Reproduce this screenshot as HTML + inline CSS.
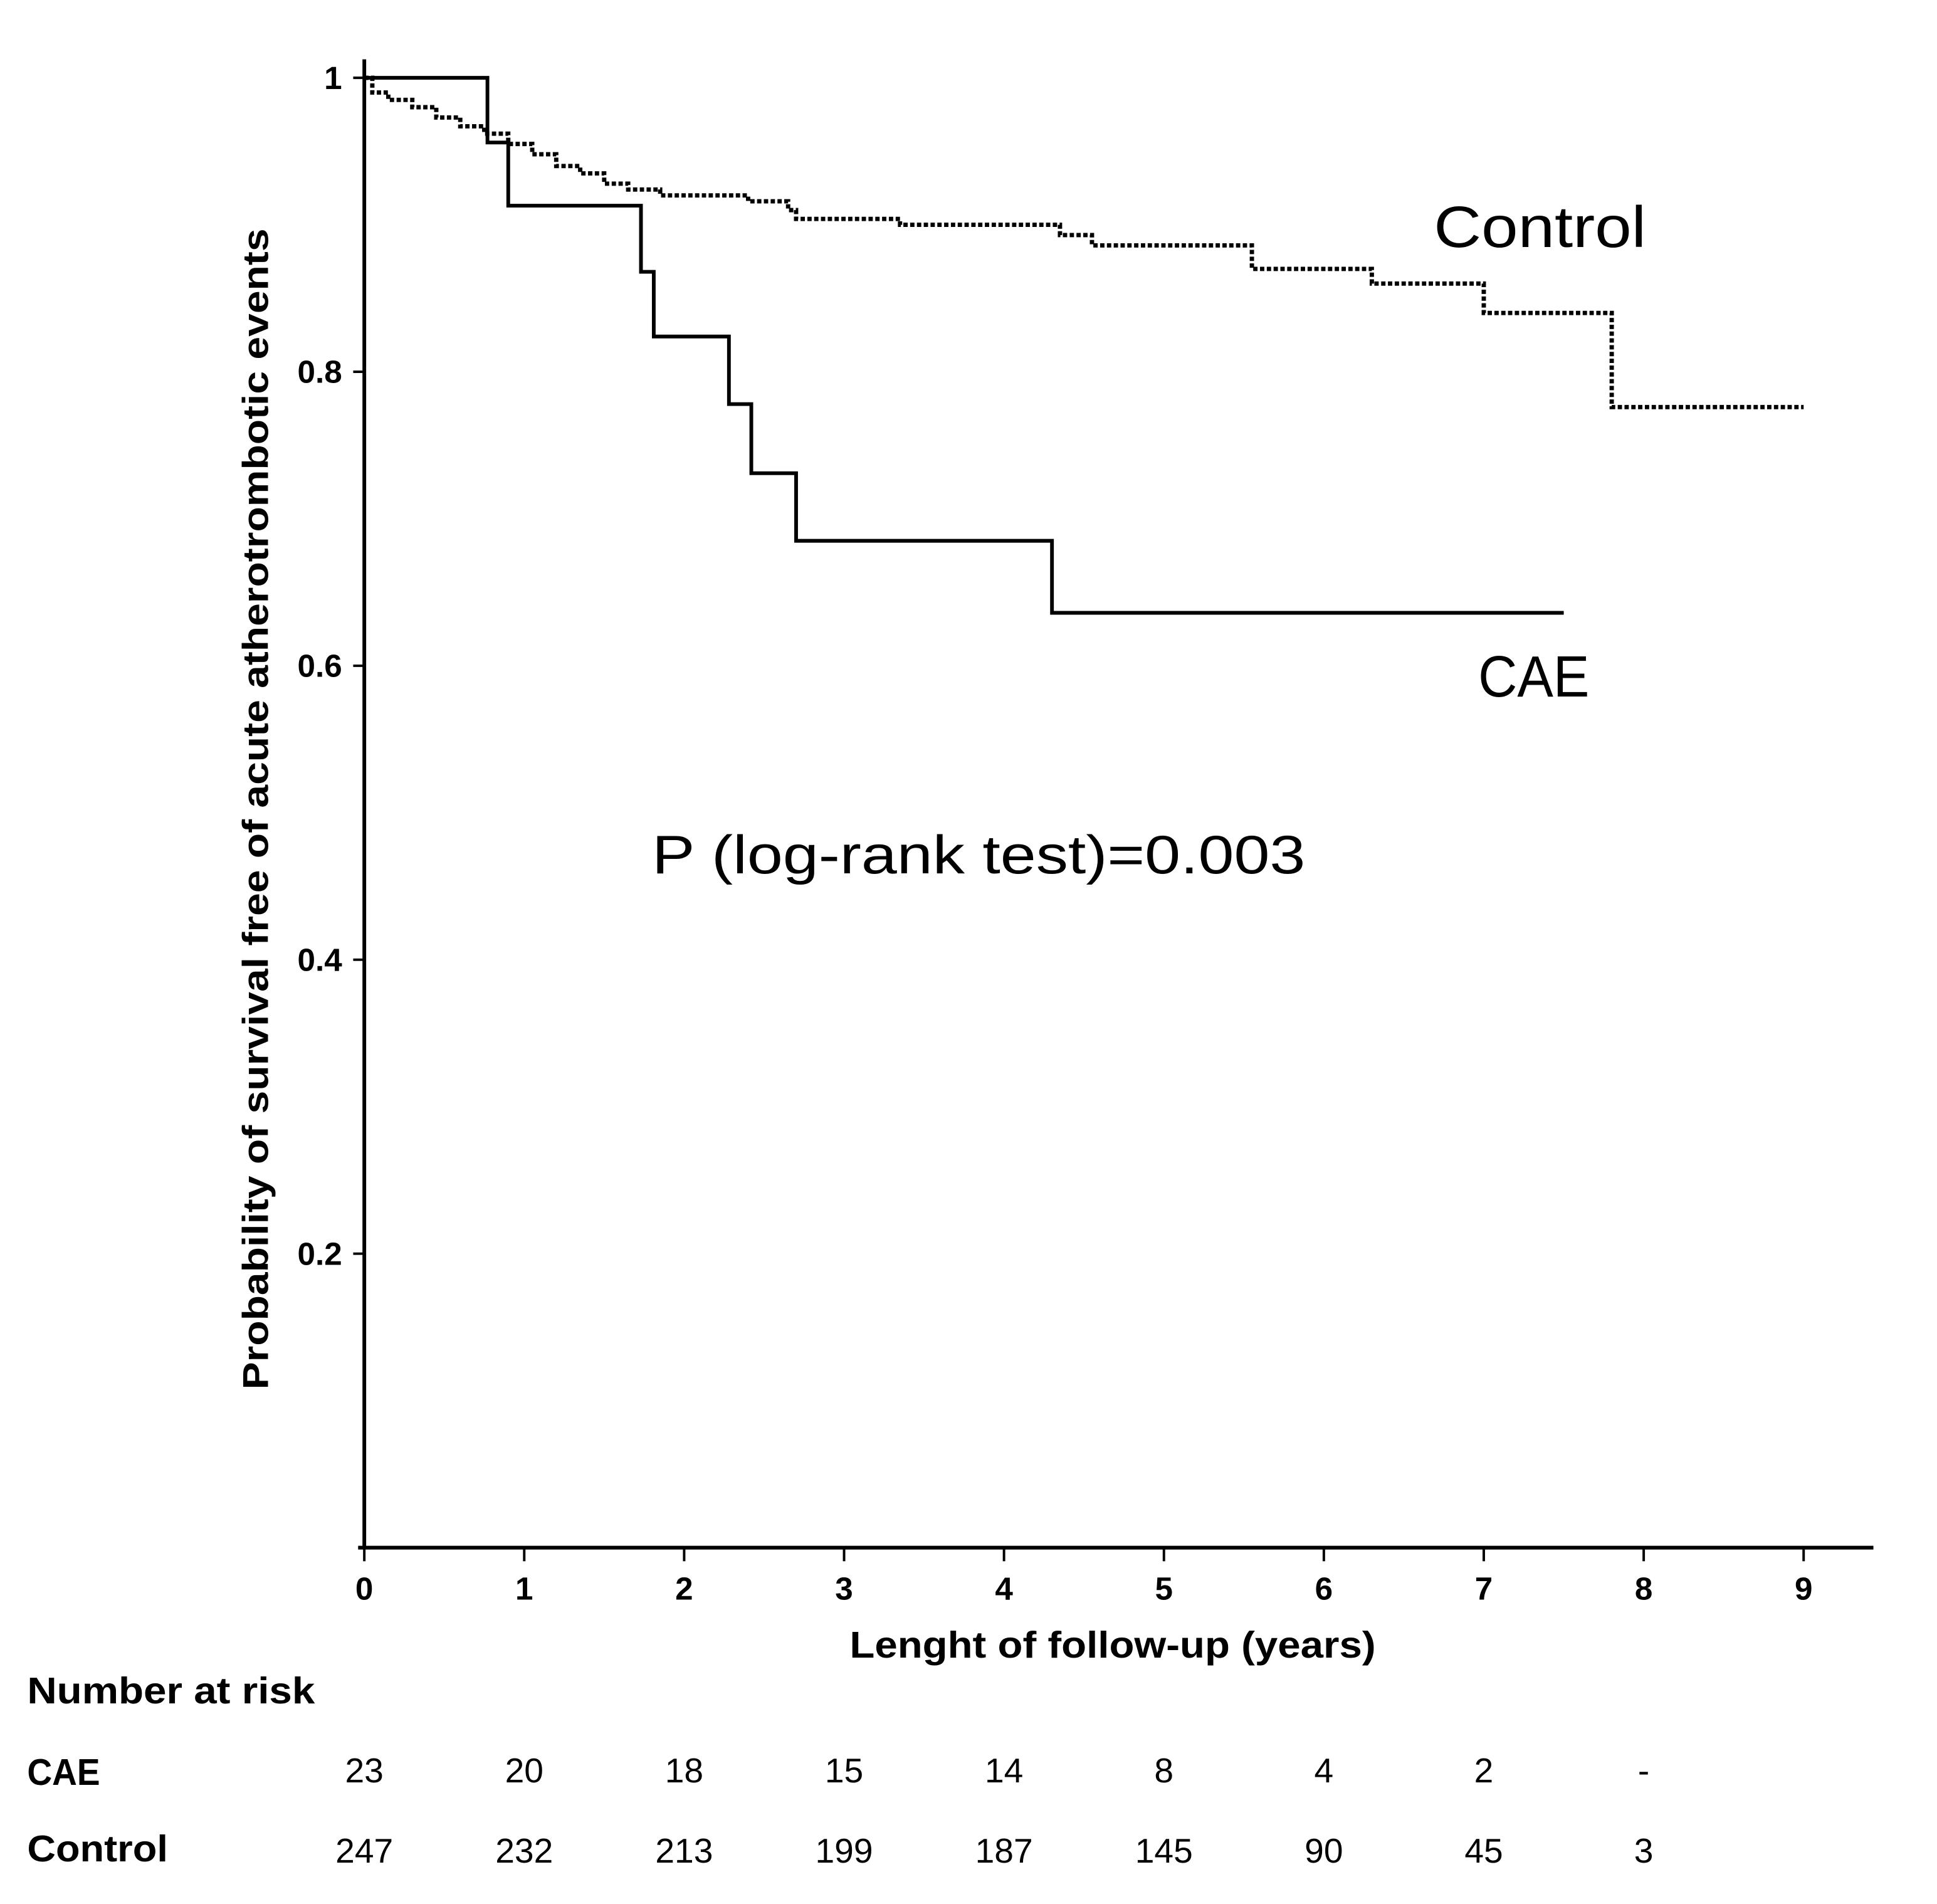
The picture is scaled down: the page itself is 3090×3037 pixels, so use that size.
<!DOCTYPE html>
<html><head><meta charset="utf-8"><style>
html,body{margin:0;padding:0;background:#fff;}
svg{display:block;}
text{font-family:"Liberation Sans",sans-serif;fill:#000;}
</style></head><body>
<svg width="3090" height="3037" viewBox="0 0 3137 3083" preserveAspectRatio="none" xmlns="http://www.w3.org/2000/svg">
<g id="axes"></g>
<g id="curves"></g>
<g id="labels">
<text transform="translate(434,1310) rotate(-90)" text-anchor="middle" font-size="58" font-weight="bold" textLength="1880" lengthAdjust="spacingAndGlyphs">Probability of survival free of acute atherotrombotic events</text>
<text x="1802" y="2684" text-anchor="middle" font-size="60" font-weight="bold" textLength="852" lengthAdjust="spacingAndGlyphs">Lenght of follow-up (years)</text>
<text x="2322" y="400" font-size="94" textLength="344" lengthAdjust="spacingAndGlyphs">Control</text>
<text x="2394" y="1128" font-size="94" textLength="180" lengthAdjust="spacingAndGlyphs">CAE</text>
<text x="1056" y="1414" font-size="88" textLength="1058" lengthAdjust="spacingAndGlyphs">P (log-rank test)=0.003</text>
<text x="44" y="2758" font-size="60" font-weight="bold" textLength="466" lengthAdjust="spacingAndGlyphs">Number at risk</text>
<text x="44" y="2890" font-size="60" font-weight="bold" textLength="118" lengthAdjust="spacingAndGlyphs">CAE</text>
<text x="44" y="3014" font-size="60" font-weight="bold" textLength="228" lengthAdjust="spacingAndGlyphs">Control</text>
</g>
<g id="risk"></g>
</svg>
<script>
const xTicks = [0,1,2,3,4,5,6,7,8,9];
const yTicks = [1,0.8,0.6,0.4,0.2];
const yTickLabels = ["1","0.8","0.6","0.4","0.2"];
const caeTimes = [0,0.77,0.9,1.73,1.81,2.28,2.42,2.7,4.3,7.5];
const caeSurv  = [1,0.956,0.913,0.868,0.824,0.778,0.731,0.685,0.636,0.636];
const ctrlTimes = [0,0.05,0.15,0.3,0.45,0.6,0.75,0.9,1.05,1.2,1.35,1.5,1.65,1.85,2.4,2.65,2.7,3.35,4.35,4.55,5.55,6.3,7.0,7.8,9.0];
const ctrlSurv  = [1,0.99,0.985,0.98,0.973,0.967,0.962,0.955,0.948,0.94,0.935,0.928,0.924,0.92,0.916,0.91,0.904,0.9,0.893,0.886,0.87,0.86,0.84,0.776,0.776];
const riskCae = ["23","20","18","15","14","8","4","2","-"];
const riskCtrl = ["247","232","213","199","187","145","90","45","3"];

const NS="http://www.w3.org/2000/svg";
const X0=590, XS=259, Y0=2506, YS=2380;
const sx=t=>X0+t*XS, sy=v=>Y0-v*YS;
function mk(tag,attrs,parent){const e=document.createElementNS(NS,tag);for(const k in attrs)e.setAttribute(k,attrs[k]);parent.appendChild(e);return e;}
const axes=document.getElementById('axes'), curves=document.getElementById('curves'), risk=document.getElementById('risk');

let e=mk('line',{x1:X0,y1:96,x2:X0,y2:Y0,stroke:'#000','stroke-width':6},axes);


e=mk('line',{x1:580,y1:Y0,x2:3034,y2:Y0,stroke:'#000','stroke-width':6},axes);



xTicks.forEach(t=>{
  let l=mk('line',{x1:sx(t),y1:Y0,x2:sx(t),y2:Y0+22,stroke:'#000','stroke-width':4},axes);
  
  
  let tx=mk('text',{x:sx(t),y:2590,'text-anchor':'middle','font-size':52,'font-weight':'bold'},axes);
  tx.textContent=String(t);
  
  
});
yTicks.forEach((v,i)=>{
  let l=mk('line',{x1:X0-18,y1:sy(v),x2:X0,y2:sy(v),stroke:'#000','stroke-width':4},axes);
  
  
  let tx=mk('text',{x:X0-36,y:sy(v)+18,'text-anchor':'end','font-size':52,'font-weight':'bold'},axes);
  tx.textContent=yTickLabels[i];
  
  
});

function stepPath(ts,vs){let d='M'+sx(ts[0])+','+sy(vs[0]);for(let i=1;i<ts.length;i++){d+=' H'+sx(ts[i])+' V'+sy(vs[i]);}return d;}
let p=mk('path',{d:stepPath(ctrlTimes,ctrlSurv),fill:'none',stroke:'#000','stroke-width':7,'stroke-dasharray':'7 4'},curves);


p=mk('path',{d:stepPath(caeTimes,caeSurv),fill:'none',stroke:'#000','stroke-width':6},curves);



riskCae.forEach((s,i)=>{
  let tx=mk('text',{x:sx(i),y:2886,'text-anchor':'middle','font-size':56},risk);
  tx.textContent=s;
  
  
});
riskCtrl.forEach((s,i)=>{
  let tx=mk('text',{x:sx(i),y:3016,'text-anchor':'middle','font-size':56},risk);
  tx.textContent=s;
  
  
});
</script>
</body></html>
